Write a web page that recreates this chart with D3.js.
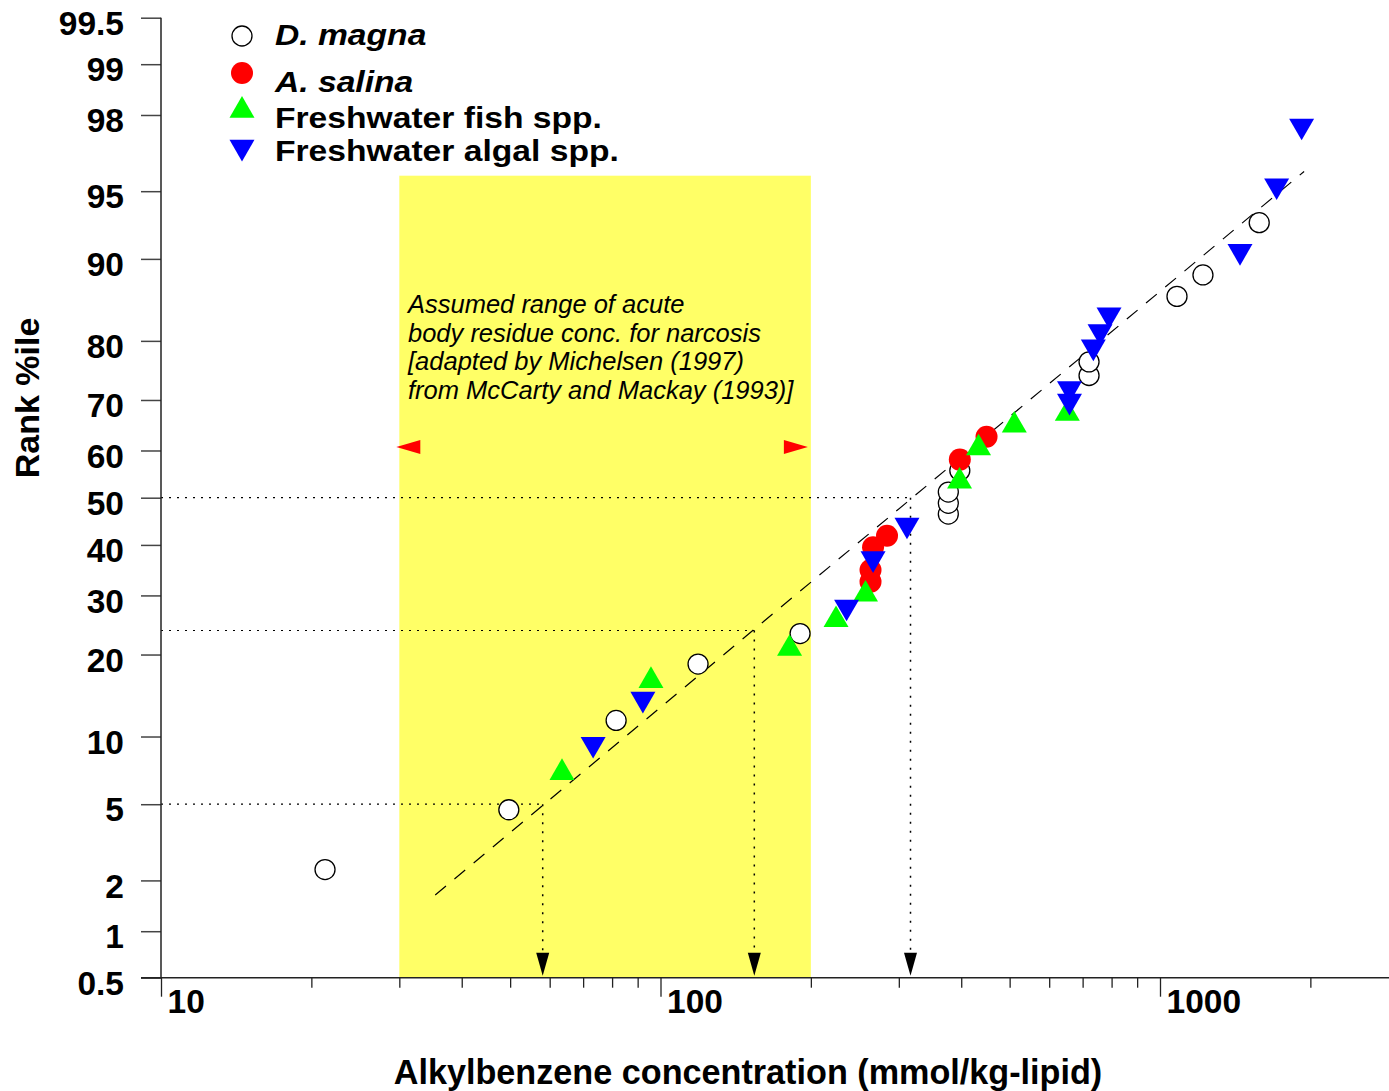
<!DOCTYPE html>
<html>
<head>
<meta charset="utf-8">
<script src="https://cdn.jsdelivr.net/npm/d3@7"></script>
<style>
  html, body { margin: 0; padding: 0; background: #fff; }
  svg { display: block; font-family: "Liberation Sans", Arial, Helvetica, sans-serif; }
</style>
</head>
<body>
<svg id="chart" width="1389" height="1091"></svg>
<script>
// ---- data: concentration (mmol/kg-lipid) and rank percentile per species group ----
const magnaConc = [21.3, 49.7, 81.5, 118.9, 190.3, 376.9, 376.9, 376.9, 397.4, 721, 721, 1081.5, 1219, 1580];
const magnaPct  = [2.3, 4.7, 11.6, 18.6, 23.3, 46.5, 48.8, 51.2, 55.8, 74.4, 76.7, 86.0, 88.4, 93.0];

const salinaConc = [263.3, 263.3, 266.4, 284.1, 397.4, 449.5];
const salinaPct  = [32.6, 34.9, 39.5, 41.9, 58.1, 62.8];

const fishConc = [63.5, 95.7, 181.3, 224.6, 257.3, 396.9, 433.2, 510.9, 652.3];
const fishPct  = [7.0, 16.3, 20.9, 25.6, 30.2, 53.5, 60.5, 65.1, 67.4];

const algaeConc = [73.3, 92.2, 235.8, 266.4, 311.5, 658.9, 658.9, 735.4, 758.5, 790.6, 1446, 1712, 1921];
const algaePct  = [9.3, 14.0, 27.9, 37.2, 44.2, 69.8, 72.1, 79.1, 81.4, 83.7, 90.7, 95.3, 97.7];

// fitted log-normal distribution, drawn between its two end points
const fitConc = [35.4, 1943];
const fitPct  = [1.65, 96.0];

// HC5 / HC24 / HC50 read-offs
const guideConc = [58.1, 154.1, 316.6];
const guidePct  = [5, 23.8, 50];

// narcosis body-residue range
const rangeConc = [30, 200];
const rangeTopPct = 95.8;
const rangeArrowPct = 60.7;
const rangeText = [
  "Assumed range of acute",
  "body residue conc. for narcosis",
  "[adapted by Michelsen (1997)",
  "from McCarty and Mackay (1993)]"
];

// axis ticks
const yTicks = [0.5, 1, 2, 5, 10, 20, 30, 40, 50, 60, 70, 80, 90, 95, 98, 99, 99.5];
const yTickLabels = ["0.5", "1", "2", "5", "10", "20", "30", "40", "50", "60", "70", "80", "90", "95", "98", "99", "99.5"];
const xMajorTicks = [10, 100, 1000];
const xMajorLabels = ["10", "100", "1000"];
const xMinorTicks = [20, 30, 40, 50, 60, 70, 80, 90, 200, 300, 400, 500, 600, 700, 800, 900, 2000];

const legendNames = ["D. magna", "A. salina", "Freshwater fish spp.", "Freshwater algal spp."];

// ---- inverse standard normal CDF (Acklam) for the probability axis ----
function probit(p) {
  const a = [-3.969683028665376e+01, 2.209460984245205e+02, -2.759285104469687e+02, 1.383577518672690e+02, -3.066479806614716e+01, 2.506628277459239e+00];
  const b = [-5.447609879822406e+01, 1.615858368580409e+02, -1.556989798598866e+02, 6.680131188771972e+01, -1.328068155288572e+01];
  const c = [-7.784894002430293e-03, -3.223964580411365e-01, -2.400758277161838e+00, -2.549671348410908e+00, 4.374664141464968e+00, 2.938163982698783e+00];
  const d = [7.784695709041462e-03, 3.224671290700398e-01, 2.445134137142996e+00, 3.754408661907416e+00];
  const pl = 0.02425, ph = 1 - pl;
  let q, r;
  if (p < pl) {
    q = Math.sqrt(-2 * Math.log(p));
    return (((((c[0]*q+c[1])*q+c[2])*q+c[3])*q+c[4])*q+c[5]) / ((((d[0]*q+d[1])*q+d[2])*q+d[3])*q+1);
  }
  if (p <= ph) {
    q = p - 0.5; r = q * q;
    return (((((a[0]*r+a[1])*r+a[2])*r+a[3])*r+a[4])*r+a[5])*q / (((((b[0]*r+b[1])*r+b[2])*r+b[3])*r+b[4])*r+1);
  }
  q = Math.sqrt(-2 * Math.log(1 - p));
  return -(((((c[0]*q+c[1])*q+c[2])*q+c[3])*q+c[4])*q+c[5]) / ((((d[0]*q+d[1])*q+d[2])*q+d[3])*q+1);
}

// ---- scales ----
const x0 = 161, yBottom = 977.7, yTop = 17.7, decade = 499.5;
const x = d3.scaleLog().domain([10, 2900]).range([x0, x0 + decade * Math.log10(290)]);
const zScale = d3.scaleLinear().domain([probit(0.005), probit(0.995)]).range([yBottom, yTop]);
const y = pct => zScale(probit(pct / 100));

const svg = d3.select("#chart");
const axisColor = "#222";

// ---- narcosis range box ----
svg.append("rect")
  .attr("x", x(rangeConc[0]))
  .attr("y", y(rangeTopPct))
  .attr("width", x(rangeConc[1]) - x(rangeConc[0]))
  .attr("height", yBottom - y(rangeTopPct))
  .attr("fill", "#ffff66");

const ya = y(rangeArrowPct);
const lx = x(rangeConc[0]) - 3, rx = x(rangeConc[1]) - 3;
svg.append("path").attr("fill", "#ff0000")
  .attr("d", `M${lx},${ya} L${lx + 24},${ya - 7} L${lx + 24},${ya + 7} Z`);
svg.append("path").attr("fill", "#ff0000")
  .attr("d", `M${rx},${ya} L${rx - 24},${ya - 7} L${rx - 24},${ya + 7} Z`);

svg.append("text")
  .attr("x", 408).attr("y", 313)
  .attr("font-size", 25.5).attr("font-style", "italic").attr("fill", "#000")
  .selectAll("tspan").data(rangeText).join("tspan")
  .attr("x", 408).attr("dy", (d, i) => i === 0 ? 0 : 28.6)
  .text(d => d);

// ---- read-off guides ----
guideConc.forEach((c, i) => {
  const gx = x(c), gy = y(guidePct[i]);
  svg.append("line").attr("x1", x0).attr("x2", gx).attr("y1", gy).attr("y2", gy)
    .attr("stroke", "#000").attr("stroke-width", 1.2).attr("stroke-dasharray", "2,6");
  svg.append("line").attr("x1", gx).attr("x2", gx).attr("y1", gy).attr("y2", yBottom - 24)
    .attr("stroke", "#000").attr("stroke-width", 1.5).attr("stroke-dasharray", "2,7");
  svg.append("path").attr("fill", "#000")
    .attr("d", `M${gx - 6.5},${yBottom - 25} L${gx + 6.5},${yBottom - 25} L${gx},${yBottom - 2} Z`);
});

// ---- fitted line ----
svg.append("line")
  .attr("x1", x(fitConc[0])).attr("y1", y(fitPct[0]))
  .attr("x2", x(fitConc[1])).attr("y2", y(fitPct[1]))
  .attr("stroke", "#000").attr("stroke-width", 1.2).attr("stroke-dasharray", "14,11");

// ---- axes ----
const yAxis = d3.axisLeft(zScale)
  .tickValues(yTicks.map(p => probit(p / 100)))
  .tickFormat((d, i) => yTickLabels[i])
  .tickSize(20).tickPadding(17);
const gy = svg.append("g").attr("transform", `translate(${x0},0)`).call(yAxis);
gy.select(".domain").remove();
gy.selectAll("line").attr("stroke", "#444").attr("stroke-width", 1.5);
gy.selectAll("text").attr("font-size", 33.5).attr("font-weight", "bold").attr("fill", "#000")
  .attr("dy", "0.32em").attr("transform", "translate(0,6)");
svg.append("line").attr("x1", x0).attr("x2", x0).attr("y1", yTop).attr("y2", yBottom)
  .attr("stroke", axisColor).attr("stroke-width", 1.5);

const xMinor = d3.axisBottom(x).tickValues(xMinorTicks).tickFormat("").tickSize(10);
const gxm = svg.append("g").attr("transform", `translate(0,${yBottom})`).call(xMinor);
gxm.select(".domain").remove();
gxm.selectAll("line").attr("stroke", axisColor).attr("stroke-width", 1.3);

const xMajor = d3.axisBottom(x).tickValues(xMajorTicks)
  .tickFormat((d, i) => xMajorLabels[i]).tickSize(19).tickPadding(4);
const gxM = svg.append("g").attr("transform", `translate(0,${yBottom})`).call(xMajor);
gxM.select(".domain").remove();
gxM.selectAll("line").attr("stroke", axisColor).attr("stroke-width", 1.3);
gxM.selectAll("text").attr("font-size", 33.5).attr("font-weight", "bold").attr("fill", "#000")
  .attr("text-anchor", "start").attr("x", 6).attr("y", 0).attr("dy", "1.04em");

svg.append("line").attr("x1", x0 - 20).attr("x2", 1389).attr("y1", yBottom).attr("y2", yBottom)
  .attr("stroke", axisColor).attr("stroke-width", 1.5);

// axis titles
svg.append("text")
  .attr("x", 748).attr("y", 1084)
  .attr("text-anchor", "middle").attr("font-size", 34.2).attr("font-weight", "bold")
  .text("Alkylbenzene concentration (mmol/kg-lipid)");
svg.append("text")
  .attr("transform", "translate(39,398) rotate(-90)")
  .attr("text-anchor", "middle").attr("font-size", 34).attr("font-weight", "bold")
  .text("Rank %ile");

// ---- markers ----
const triUp = d3.symbol().type(d3.symbolTriangle).size(270)();

function pts(conc, pct) { return conc.map((c, i) => ({ c, p: pct[i] })); }

svg.append("g").selectAll("circle").data(pts(magnaConc, magnaPct)).join("circle")
  .attr("cx", d => x(d.c)).attr("cy", d => y(d.p)).attr("r", 10)
  .attr("fill", "#fff").attr("stroke", "#000").attr("stroke-width", 1.3);

svg.append("g").selectAll("circle").data(pts(salinaConc, salinaPct)).join("circle")
  .attr("cx", d => x(d.c)).attr("cy", d => y(d.p)).attr("r", 11)
  .attr("fill", "#ff0000");

svg.append("g").selectAll("path").data(pts(fishConc, fishPct)).join("path")
  .attr("d", triUp)
  .attr("transform", d => `translate(${x(d.c)},${y(d.p)})`)
  .attr("fill", "#00ff00");

svg.append("g").selectAll("path").data(pts(algaeConc, algaePct)).join("path")
  .attr("d", triUp)
  .attr("transform", d => `translate(${x(d.c)},${y(d.p)}) rotate(180)`)
  .attr("fill", "#0000ff");

// ---- legend (bold lettering, tightly stacked rows) ----
const legend = svg.append("g");
const legY = [36, 73, 110.5, 147];
const legTextY = [45, 92, 128, 161];
legend.append("circle").attr("cx", 242).attr("cy", legY[0]).attr("r", 10)
  .attr("fill", "#fff").attr("stroke", "#000").attr("stroke-width", 1.3);
legend.append("circle").attr("cx", 242).attr("cy", legY[1]).attr("r", 11).attr("fill", "#ff0000");
legend.append("path").attr("d", triUp).attr("transform", `translate(242,${legY[2]})`).attr("fill", "#00ff00");
legend.append("path").attr("d", triUp).attr("transform", `translate(242,${legY[3]}) rotate(180)`).attr("fill", "#0000ff");
legend.selectAll("text").data(legendNames).join("text")
  .attr("transform", (d, i) => `translate(275,${legTextY[i]}) scale(1.14,1)`)
  .attr("font-size", 29.5).attr("font-weight", "bold")
  .attr("font-style", (d, i) => i < 2 ? "italic" : "normal")
  .text(d => d);
</script>
</body>
</html>
